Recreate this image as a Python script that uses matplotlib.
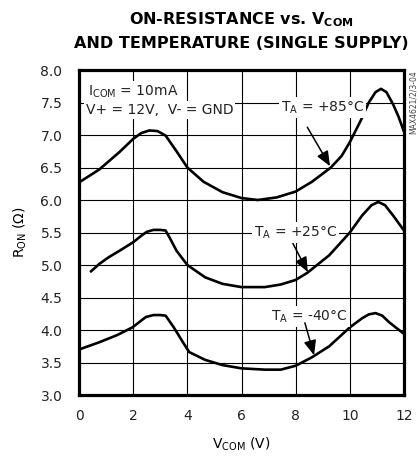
import matplotlib
matplotlib.use("Agg")
import matplotlib.pyplot as plt

# curves
v85 = [0, 0.75, 1.5, 2.0, 2.3, 2.6, 2.9, 3.2, 3.6, 4.0, 4.6, 5.3, 6.0, 6.6, 7.3, 8.0,
       8.6, 9.3, 9.7, 10.0, 10.4, 10.7, 10.95, 11.15, 11.35, 11.6, 11.8, 12.0]
r85 = [6.27, 6.47, 6.74, 6.94, 7.03, 7.07, 7.06, 6.99, 6.75, 6.5, 6.28, 6.12, 6.03, 6.0, 6.04, 6.13,
       6.28, 6.5, 6.68, 6.89, 7.22, 7.5, 7.66, 7.71, 7.66, 7.47, 7.28, 7.05]

v25 = [0.41, 0.76, 1.1, 1.5, 2.0, 2.3, 2.5, 2.75, 3.0, 3.2, 3.36, 3.6, 4.0, 4.66, 5.3, 6.0,
       6.86, 7.45, 8.0, 8.43, 9.24, 10.0, 10.45, 10.8, 11.05, 11.3, 11.6, 12.0]
r25 = [4.89, 5.02, 5.12, 5.22, 5.35, 5.45, 5.51, 5.54, 5.54, 5.53, 5.41, 5.22, 5.0, 4.81, 4.71, 4.66,
       4.66, 4.70, 4.77, 4.88, 5.15, 5.5, 5.76, 5.92, 5.97, 5.92, 5.76, 5.53]

vm40 = [0, 0.74, 1.4, 1.97, 2.47, 2.75, 3.0, 3.2, 3.5, 3.84, 4.07, 4.66, 5.3, 6.0, 6.86, 7.45,
        8.0, 8.6, 9.24, 10.0, 10.45, 10.7, 10.95, 11.2, 11.45, 12.0]
rm40 = [3.70, 3.81, 3.92, 4.04, 4.2, 4.23, 4.23, 4.22, 4.04, 3.81, 3.66, 3.54, 3.46, 3.41, 3.39, 3.39,
        3.45, 3.58, 3.75, 4.04, 4.18, 4.24, 4.26, 4.22, 4.12, 3.94]

xticks = [0, 2, 4, 6, 8, 10, 12]
yticks = [3.0, 3.5, 4.0, 4.5, 5.0, 5.5, 6.0, 6.5, 7.0, 7.5, 8.0]

plt.rcParams['font.family'] = ['DejaVu Sans']
plt.rcParams['font.size'] = 10
plt.rcParams['mathtext.fontset'] = 'dejavusans'
plt.rcParams['text.color'] = '#222222'

fig = plt.figure(figsize=(4.17, 4.57), dpi=100)
ax = fig.add_axes([79/417, 1-395/457, 325/417, 325/457])

ax.plot(v85, r85, color='k', lw=1.9, zorder=3, solid_capstyle='butt')
ax.plot(v25, r25, color='k', lw=1.9, zorder=3, solid_capstyle='butt')
ax.plot(vm40, rm40, color='k', lw=1.9, zorder=3, solid_capstyle='butt')

ax.set_xlim(0, 12)
ax.set_ylim(3.0, 8.0)
ax.set_xticks(xticks)
ax.set_yticks(yticks)
ax.set_yticklabels(["%.1f" % y for y in yticks])
ax.tick_params(length=0, labelsize=10, colors='#222222')
ax.tick_params(axis='y', pad=12)
ax.tick_params(axis='x', pad=10)
ax.grid(True, color='k', lw=0.8)
ax.set_axisbelow(True)
for s in ax.spines.values():
    s.set_linewidth(2.3)

ax.set_xlabel(r"V$_{\mathrm{COM}}$ (V)", fontsize=10, labelpad=9)
ax.set_ylabel(r"R$_{\mathrm{ON}}$ ($\Omega$)", fontsize=10, labelpad=8)

box = dict(facecolor='white', edgecolor='none', pad=1.5)
ax.text(0.35, 7.67, r"I$_{\mathrm{COM}}$ = 10mA", fontsize=10, va='center', ha='left', bbox=box, zorder=4)
ax.text(0.25, 7.39, r"V+ = 12V,  V- = GND", fontsize=10, va='center', ha='left', bbox=box, zorder=4)

arrow = dict(arrowstyle='-|>,head_length=0.6,head_width=0.25', color='k', lw=1.1,
             mutation_scale=15, shrinkA=0, shrinkB=0)
ax.text(9.0, 7.42, r"T$_{\mathrm{A}}$ = +85°C", fontsize=10, va='center', ha='center', bbox=box, zorder=4)
ax.annotate("", xy=(9.27, 6.52), xytext=(8.43, 7.12), arrowprops=arrow, zorder=5)
ax.text(8.0, 5.5, r"T$_{\mathrm{A}}$ = +25°C", fontsize=10, va='center', ha='center', bbox=box, zorder=4)
ax.annotate("", xy=(8.45, 4.89), xytext=(7.9, 5.33), arrowprops=arrow, zorder=5)
ax.text(8.5, 4.21, r"T$_{\mathrm{A}}$ = -40°C", fontsize=10, va='center', ha='center', bbox=box, zorder=4)
ax.annotate("", xy=(8.68, 3.61), xytext=(8.34, 4.11), arrowprops=arrow, zorder=5)

fig.text(241/417, 1-20/457, r"ON-RESISTANCE vs. V$_{\mathbf{COM}}$", fontsize=11.5, fontweight='bold',
         ha='center', va='center', color='k')
fig.text(241/417, 1-44/457, "AND TEMPERATURE (SINGLE SUPPLY)", fontsize=11.5, fontweight='bold',
         ha='center', va='center', color='k')
fig.text(413/417, 1-70/457, "MAX4621/2/3-04", fontsize=5.5, rotation=90, ha='center', va='top', color='#444444')

fig.savefig("out.png", dpi=100)
